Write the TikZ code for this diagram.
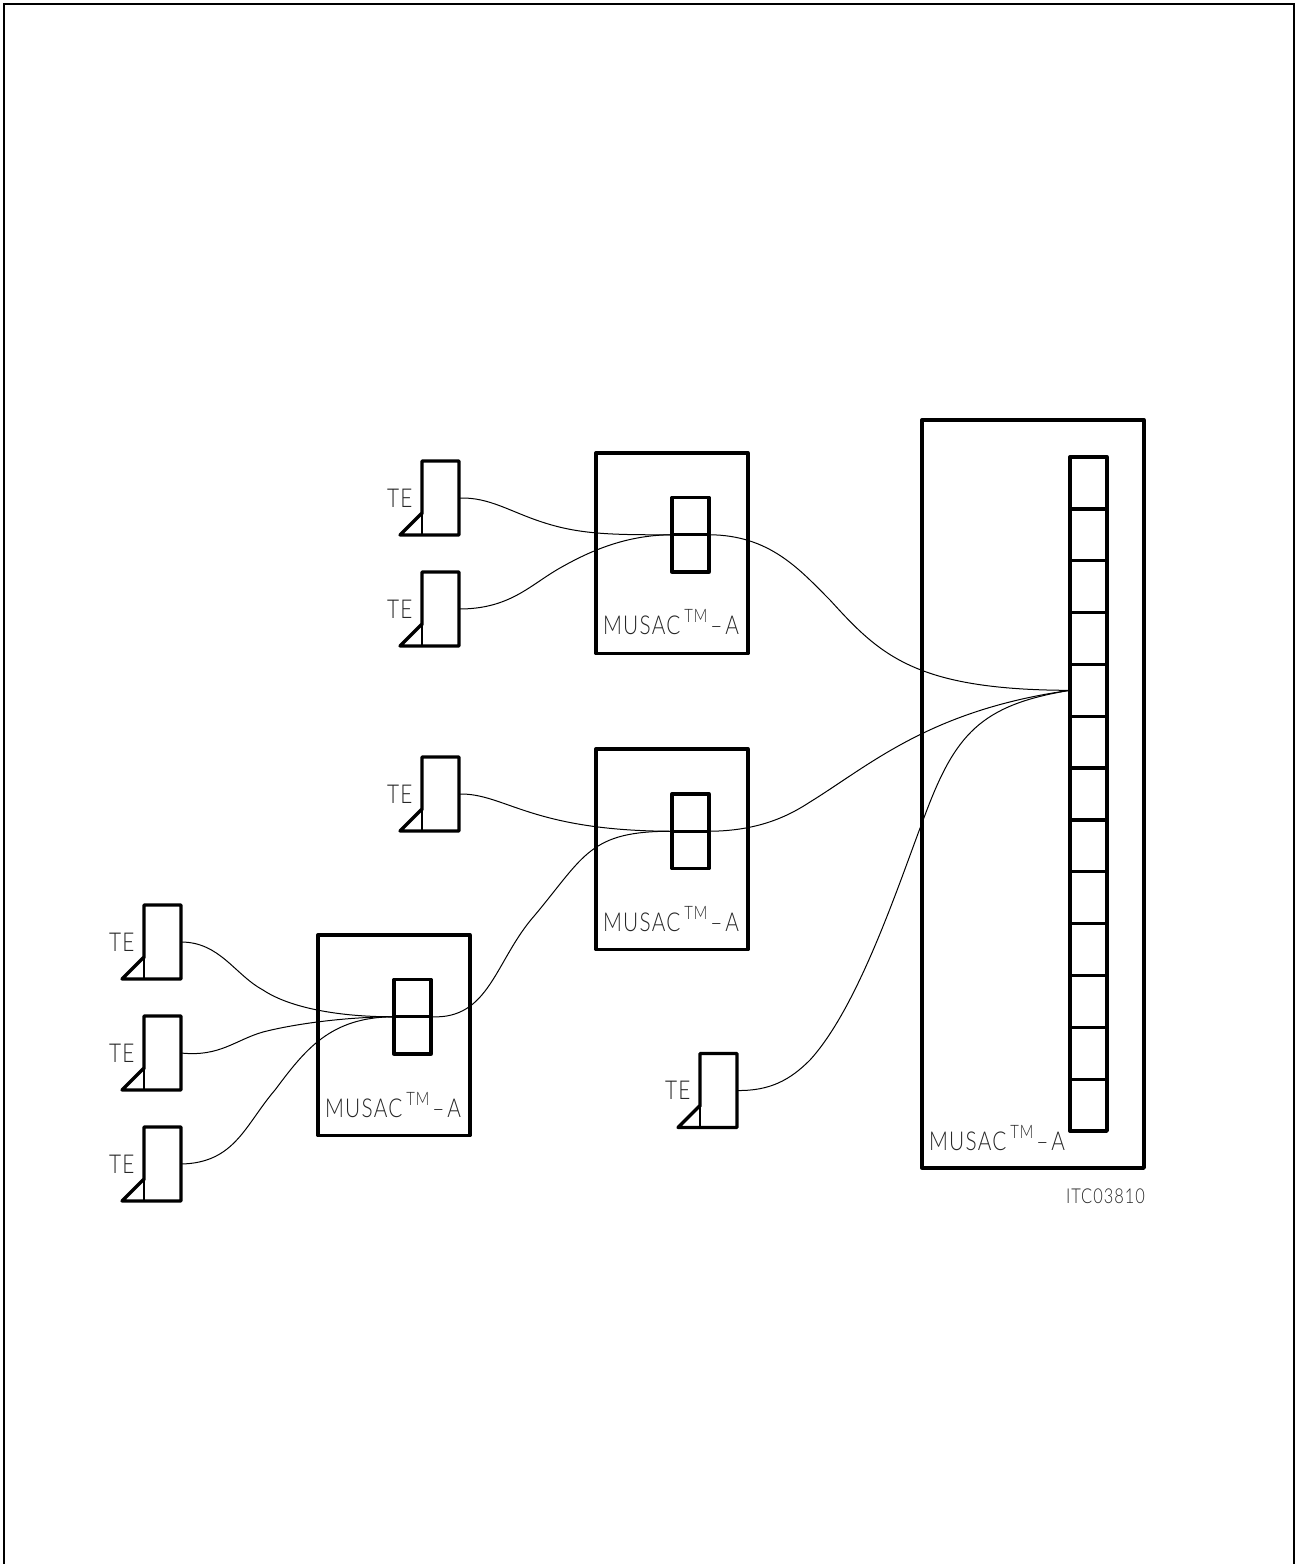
\documentclass[tikz,border=0pt]{standalone}
\usepackage{fontspec}
\setmainfont{Lato Light}[FakeStretch=0.8,LetterSpace=5]
\newcommand{\musac}{MUSAC\hspace{4pt}\raisebox{12pt}{\fontsize{18.5}{19}\selectfont TM}\hspace{3pt}–\hspace{3pt}A}
\tikzset{
  x=1pt,y=-1pt,
  heavy/.style={line width=3.3pt,line join=round,line cap=round},
  boxnode/.style={draw,heavy,rectangle,inner sep=0pt,outer sep=0pt,anchor=north west},
  mainbox/.style={boxnode,minimum width=152pt,minimum height=200.5pt},
  slotbox/.style={boxnode,minimum width=37pt,minimum height=74.5pt},
  tebox/.style={rectangle,inner sep=0pt,outer sep=0pt,anchor=north west,minimum width=37pt,minimum height=74pt},
  cellbox/.style={boxnode,minimum width=37pt,minimum height=51.85pt},
  wire/.style={line width=1pt,line join=round},
  lab/.style={inner sep=0pt,outer sep=0pt,anchor=base west,text=black!85,font=\fontsize{26}{26}\selectfont},
  small/.style={lab,font=\fontsize{20.5}{22}\selectfont},
}
\newcommand{\tedev}[3]{% name, x, y of box top-left
  \node[tebox] (#1) at (#2,#3) {};
  \draw[heavy] (#1.south west) ++(0,-21) -- (#1.north west) -- (#1.north east) -- (#1.south east) -- ++(-59,0) -- ++(22,-22);
  \draw[line width=1.6pt] (#1.south west) -- ++(0,-21);
  \node[lab] (#1l) at (#2-35,#3+46) {TE};
}
\begin{document}
\begin{tikzpicture}
\useasboundingbox (0,0) rectangle (1295,1564);
\draw[line width=2.2pt] (4,1564) -- (4,4) -- (1294,4) -- (1294,1564);

% big unit
\node[boxnode,minimum width=222pt,minimum height=748pt] (big) at (922,420) {};
\foreach \i [evaluate=\i as \yy using 457+(\i-1)*51.85] in {1,...,13}{
  \node[cellbox] (c\i) at (1070,\yy) {};
}
\node[lab] (bigl) at (929,1150) {\musac};
\node[small] (itc) at (1066,1203) {ITC03810};

% units
\node[mainbox] (ma) at (596,453) {};
\node[slotbox] (sa) at (672,497.5) {};
\draw[heavy] (sa.west) -- (sa.east);
\node[lab] (mal) at (603,634) {\musac};

\node[mainbox] (mb) at (596,749) {};
\node[slotbox] (sb) at (672,794) {};
\draw[heavy] (sb.west) -- (sb.east);
\node[lab] (mbl) at (603,931) {\musac};

\node[mainbox] (mc) at (318,935) {};
\node[slotbox] (sc) at (394,979.5) {};
\draw[heavy] (sc.west) -- (sc.east);
\node[lab] (mcl) at (325,1117) {\musac};

% terminals
\tedev{t1}{422}{461}
\tedev{t2}{422}{572}
\tedev{t3}{422}{757}
\tedev{t4}{144}{905}
\tedev{t5}{144}{1016}
\tedev{t6}{144}{1127}
\tedev{t7}{700}{1053.5}

\coordinate (port) at (c5.west);

% wires
\draw[wire] (t1.east) .. controls (490,497) and (510,512) .. (545,523)
   .. controls (580,534) and (610,535) .. (sa.west);
\draw[wire] (t2.east) .. controls (510,609) and (530,585) .. (560,568)
   .. controls (595,548) and (630,535) .. (sa.west);
\draw[wire] (sa.east) .. controls (770,535) and (800,570) .. (830,600)
   .. controls (880,655) and (915,690) .. (port);
\draw[wire] (t3.east) .. controls (505,793) and (530,831) .. (sb.west);
\draw[wire] (sc.east) .. controls (490,1020) and (495,960) .. (535,915)
   .. controls (585,855) and (590,831) .. (sb.west);
\draw[wire] (sb.east) .. controls (760,831) and (790,815) .. (810,802)
   .. controls (870,765) and (930,710) .. (port);
\draw[wire] (t7.east) .. controls (770,1091) and (790,1080) .. (810,1060)
   .. controls (860,1005) and (900,880) .. (925,815)
   .. controls (955,735) and (980,705) .. (port);
\draw[wire] (t4.east) .. controls (220,942) and (235,975) .. (263,990)
   .. controls (290,1008) and (340,1017) .. (sc.west);
\draw[wire] (t5.east) .. controls (220,1057) and (235,1040) .. (263,1032)
   .. controls (290,1025) and (340,1017) .. (sc.west);
\draw[wire] (t6.east) .. controls (235,1163) and (245,1125) .. (275,1090)
   .. controls (305,1050) and (330,1017) .. (sc.west);
\end{tikzpicture}
\end{document}
